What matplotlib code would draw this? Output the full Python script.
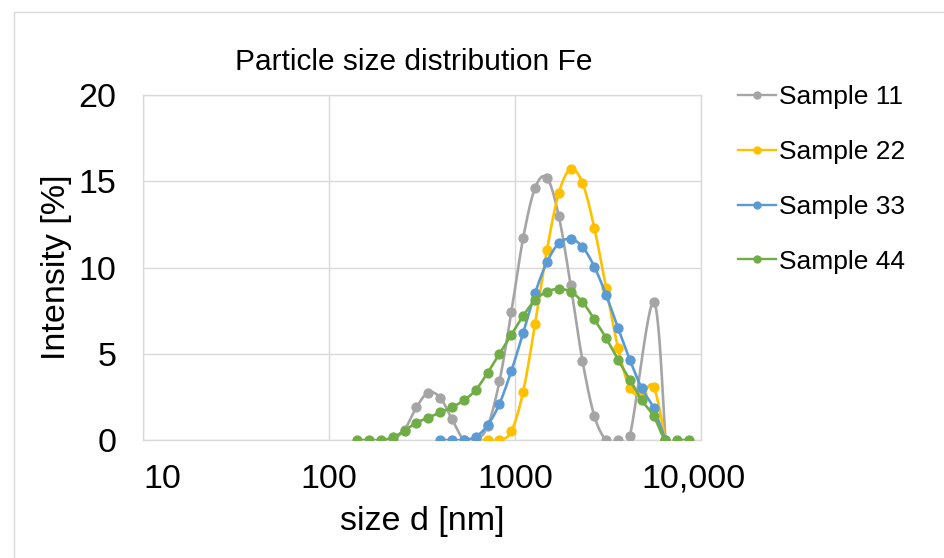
import matplotlib
matplotlib.use("Agg")
import matplotlib.pyplot as plt
import matplotlib.transforms as mtransforms
import numpy as np
from matplotlib.lines import Line2D
from matplotlib.patches import Rectangle

plt.rcParams['font.family'] = ['Liberation Sans', 'DejaVu Sans']

# size bins [nm] per sample and intensity [%]
s11_size = [220.2, 255.0, 295.3, 342.0, 396.1, 458.7, 531.2, 615.1, 712.4, 825.0,
            955.4, 1106, 1281, 1484, 1718, 1990, 2305, 2669, 3091, 3580, 4145, 5560, 6439]
s11_int = [0, 0.6, 1.9, 2.75, 2.45, 1.2, 0, 0, 0.8, 3.4,
           7.4, 11.7, 14.6, 15.2, 13.0, 9.0, 4.6, 1.4, 0, 0, 0.25, 8.0, 0]

s22_size = [615.1, 712.4, 825.0, 955.4, 1106, 1281, 1484, 1718, 1990, 2305,
            2669, 3091, 3580, 4145, 4801, 5560, 6439]
s22_int = [0, 0, 0, 0.5, 2.8, 6.7, 11.0, 14.3, 15.7, 14.9,
           12.3, 8.8, 5.35, 3.0, 2.65, 3.1, 0]

s33_size = [396.1, 458.7, 531.2, 615.1, 712.4, 825.0, 955.4, 1106, 1281, 1484,
            1718, 1990, 2305, 2669, 3091, 3580, 4145, 4801, 5560, 6439]
s33_int = [0, 0, 0, 0.2, 0.85, 2.1, 4.0, 6.2, 8.5, 10.3,
           11.4, 11.65, 11.2, 10.05, 8.4, 6.5, 4.65, 3.0, 1.85, 0]

s44_size = [141.8, 164.2, 190.1, 220.2, 255.0, 295.3, 342.0, 396.1, 458.7, 531.2,
            615.1, 712.4, 825.0, 955.4, 1106, 1281, 1484, 1718, 1990, 2305,
            2669, 3091, 3580, 4145, 4801, 5560, 6439, 7456, 8635]
s44_int = [0, 0, 0, 0.15, 0.55, 1.0, 1.3, 1.6, 1.9, 2.3,
           2.9, 3.9, 5.0, 6.1, 7.2, 8.1, 8.6, 8.75, 8.6, 8.0,
           7.0, 5.9, 4.65, 3.5, 2.3, 1.4, 0, 0, 0]

labels = ['Sample 11', 'Sample 22', 'Sample 33', 'Sample 44']
colors = ['#A5A5A5', '#FFC000', '#5B9BD5', '#70AD47']
x_ticks = [10, 100, 1000, 10000]
x_ticklabels = ['10', '100', '1000', '10,000']
y_ticks = [0, 5, 10, 15, 20]


def smooth(xs, ys, n=24):
    # excel-like smoothed line (bezier through the points, in log-x space)
    lx = np.log10(xs)
    p = np.column_stack([lx, ys])
    p = np.vstack([p[0], p, p[-1]])
    t = np.linspace(0, 1, n)[:, None]
    out = []
    for i in range(1, len(p) - 2):
        p0, p1, p2, p3 = p[i - 1], p[i], p[i + 1], p[i + 2]
        b1 = p1 + (p2 - p0) / 6
        b2 = p2 - (p3 - p1) / 6
        seg = ((1 - t) ** 3) * p1 + 3 * ((1 - t) ** 2) * t * b1 + 3 * (1 - t) * t ** 2 * b2 + t ** 3 * p2
        out.append(seg)
    out = np.vstack(out)
    return 10 ** out[:, 0], out[:, 1]


fig = plt.figure(figsize=(9.44, 5.58), dpi=100)
fig.patches.append(Rectangle((14 / 944, -0.1), 1.2, 1 - 12 / 558 + 0.1, transform=fig.transFigure,
                             fill=False, edgecolor='#d9d9d9', linewidth=1))
ax = fig.add_axes([143 / 944, 1 - 440 / 558, (701 - 143) / 944, (440 - 95) / 558])

series = [(s11_size, s11_int), (s22_size, s22_int), (s33_size, s33_int), (s44_size, s44_int)]
for (xs, ys), c in zip(series, colors):
    sx, sy = smooth(xs, ys)
    ax.plot(sx, sy, color=c, linewidth=1.9, solid_capstyle='round', zorder=3)
    ax.plot(xs, ys, linestyle='none', marker='o', markersize=6.4, color=c, zorder=3)

ax.set_xscale('log')
ax.set_xlim(10, 10000)
ax.set_ylim(0, 20)
ax.set_xticks(x_ticks)
ax.set_xticklabels(x_ticklabels)
ax.xaxis.set_minor_locator(matplotlib.ticker.NullLocator())
ax.set_yticks(y_ticks)
ax.grid(True, color='#d9d9d9', linewidth=1)
ax.set_axisbelow(True)
for sp in ax.spines.values():
    sp.set_color('#d9d9d9')
    sp.set_linewidth(1)
ax.tick_params(axis='both', length=0, labelsize=24.5, colors='#000000')
ax.tick_params(axis='y', pad=19)
ax.tick_params(axis='x', pad=17)
xt = ax.get_xticklabels()
xt[0].set_horizontalalignment('left')
# last label sits a little left of its tick, as in the original
shift = mtransforms.ScaledTranslation(-8 / 100, 0, fig.dpi_scale_trans)
xt[-1].set_transform(xt[-1].get_transform() + shift)

ax.set_xlabel('size d [nm]', fontsize=24.5, labelpad=8)
ax.set_ylabel('Intensity [%]', fontsize=24.5, labelpad=5)
fig.text(414 / 944, 1 - 62 / 558, 'Particle size distribution Fe', fontsize=21.5,
         ha='center', va='center')

handles = [Line2D([0], [0], color=c, linewidth=1.7, marker='o', markersize=5) for c in colors]
ax.legend(handles, labels, loc='upper left', bbox_to_anchor=(738 / 944, 1 - 85 / 558),
          bbox_transform=fig.transFigure, frameon=False, fontsize=19, handlelength=1.45,
          handletextpad=0.1, labelspacing=1.17, borderpad=0, borderaxespad=0)

fig.savefig('out.png', dpi=100)
